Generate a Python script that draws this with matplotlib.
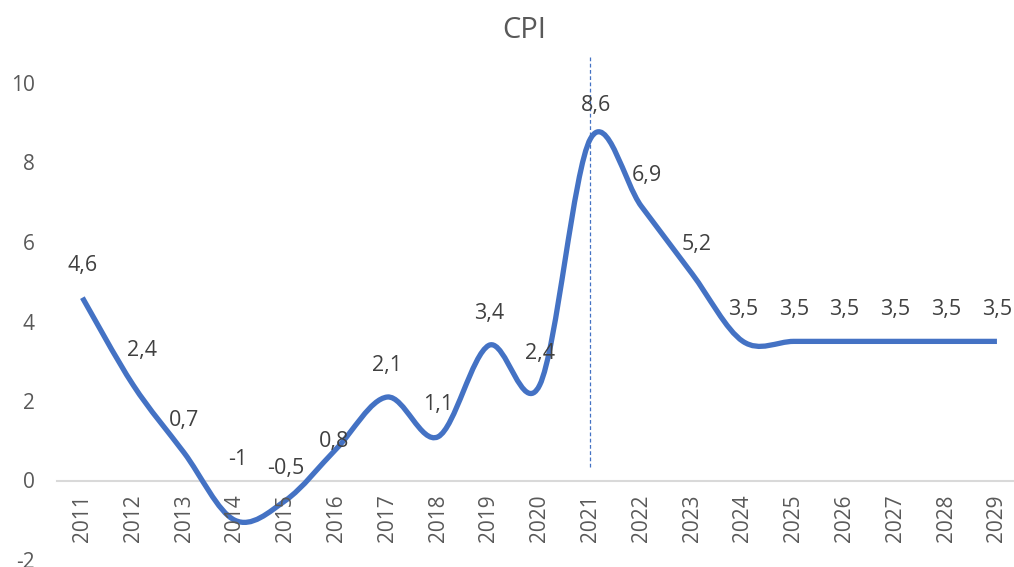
import matplotlib.pyplot as plt
from matplotlib.path import Path
from matplotlib.patches import PathPatch
import numpy as np

years = [str(y) for y in range(2011, 2030)]
cpi = [4.6, 2.4, 0.7, -1, -0.5, 0.8, 2.1, 1.1, 3.4, 2.4, 8.6, 6.9, 5.2,
       3.5, 3.5, 3.5, 3.5, 3.5, 3.5]
marker_year = '2021'

line_color = '#4472C4'
text_color = '#595959'
label_color = '#404040'
plt.rcParams['font.family'] = ['Open Sans', 'DejaVu Sans']
plt.rcParams['axes.unicode_minus'] = False


def smooth_path(x, y):
    # Excel style smoothed line: cubic Bezier through every point
    pts = np.column_stack([x, y]).astype(float)
    ext = np.vstack([pts[0], pts, pts[-1]])
    verts = [pts[0]]
    codes = [Path.MOVETO]
    for i in range(len(pts) - 1):
        p0, p1, p2, p3 = ext[i], ext[i + 1], ext[i + 2], ext[i + 3]
        c1 = p1 + (p2 - p0) / 6.0
        c2 = p2 - (p3 - p1) / 6.0
        verts += [c1, c2, p2]
        codes += [Path.CURVE4] * 3
    return Path(verts, codes)


fig = plt.figure(figsize=(10.14, 5.67), dpi=100)
ax = fig.add_axes([57 / 1014, 1 - 560 / 567, 1 - 57 / 1014, (560 - 83) / 567])

x = np.arange(len(years))
ax.add_patch(PathPatch(smooth_path(x, cpi), facecolor='none',
                       edgecolor=line_color, lw=3.8, capstyle='butt',
                       joinstyle='round', zorder=3))

ax.set_xlim(-0.5, (1014 - 82) / 50.83)
ax.set_ylim(-2, 10)
ax.set_yticks(range(-2, 11, 2))
ax.set_xticks(x)
ax.set_xticklabels([])
ax.tick_params(length=0, labelsize=15, labelcolor=text_color)
ax.tick_params(axis='y', pad=16)
for s in ['top', 'right', 'left']:
    ax.spines[s].set_visible(False)
ax.spines['bottom'].set_position(('data', 0))
ax.spines['bottom'].set_color('#D9D9D9')
ax.spines['bottom'].set_linewidth(1.5)

# category labels hang below the zero line
for xi, yr in zip(x, years):
    ax.annotate(yr, (xi, 0), xytext=(0, -10), textcoords='offset points',
                rotation=90, ha='center', va='top', fontsize=15,
                color=text_color)

# data labels
offsets = {3: (2, 44), 5: (-2, 5), 1: (6, 25), 10: (4, 24), 11: (4, 22),
           12: (3, 21)}
for i, v in enumerate(cpi):
    dx, dy = offsets.get(i, (0, 23))
    txt = ('%g' % v).replace('.', ',')
    ax.annotate(txt, (i, v), xytext=(dx, dy), textcoords='offset points',
                ha='center', va='center', fontsize=15.5, color=label_color,
                zorder=4)

mx = years.index(marker_year)
ax.plot([mx, mx], [0.33, 10.65], color=line_color, lw=0.9,
        linestyle=(0, (3, 2)), clip_on=False, zorder=2)

fig.text(524 / 1014, 1 - 30 / 567, 'CPI', ha='center', va='center',
         fontsize=21, color=text_color)

fig.savefig('out.png', dpi=100)
